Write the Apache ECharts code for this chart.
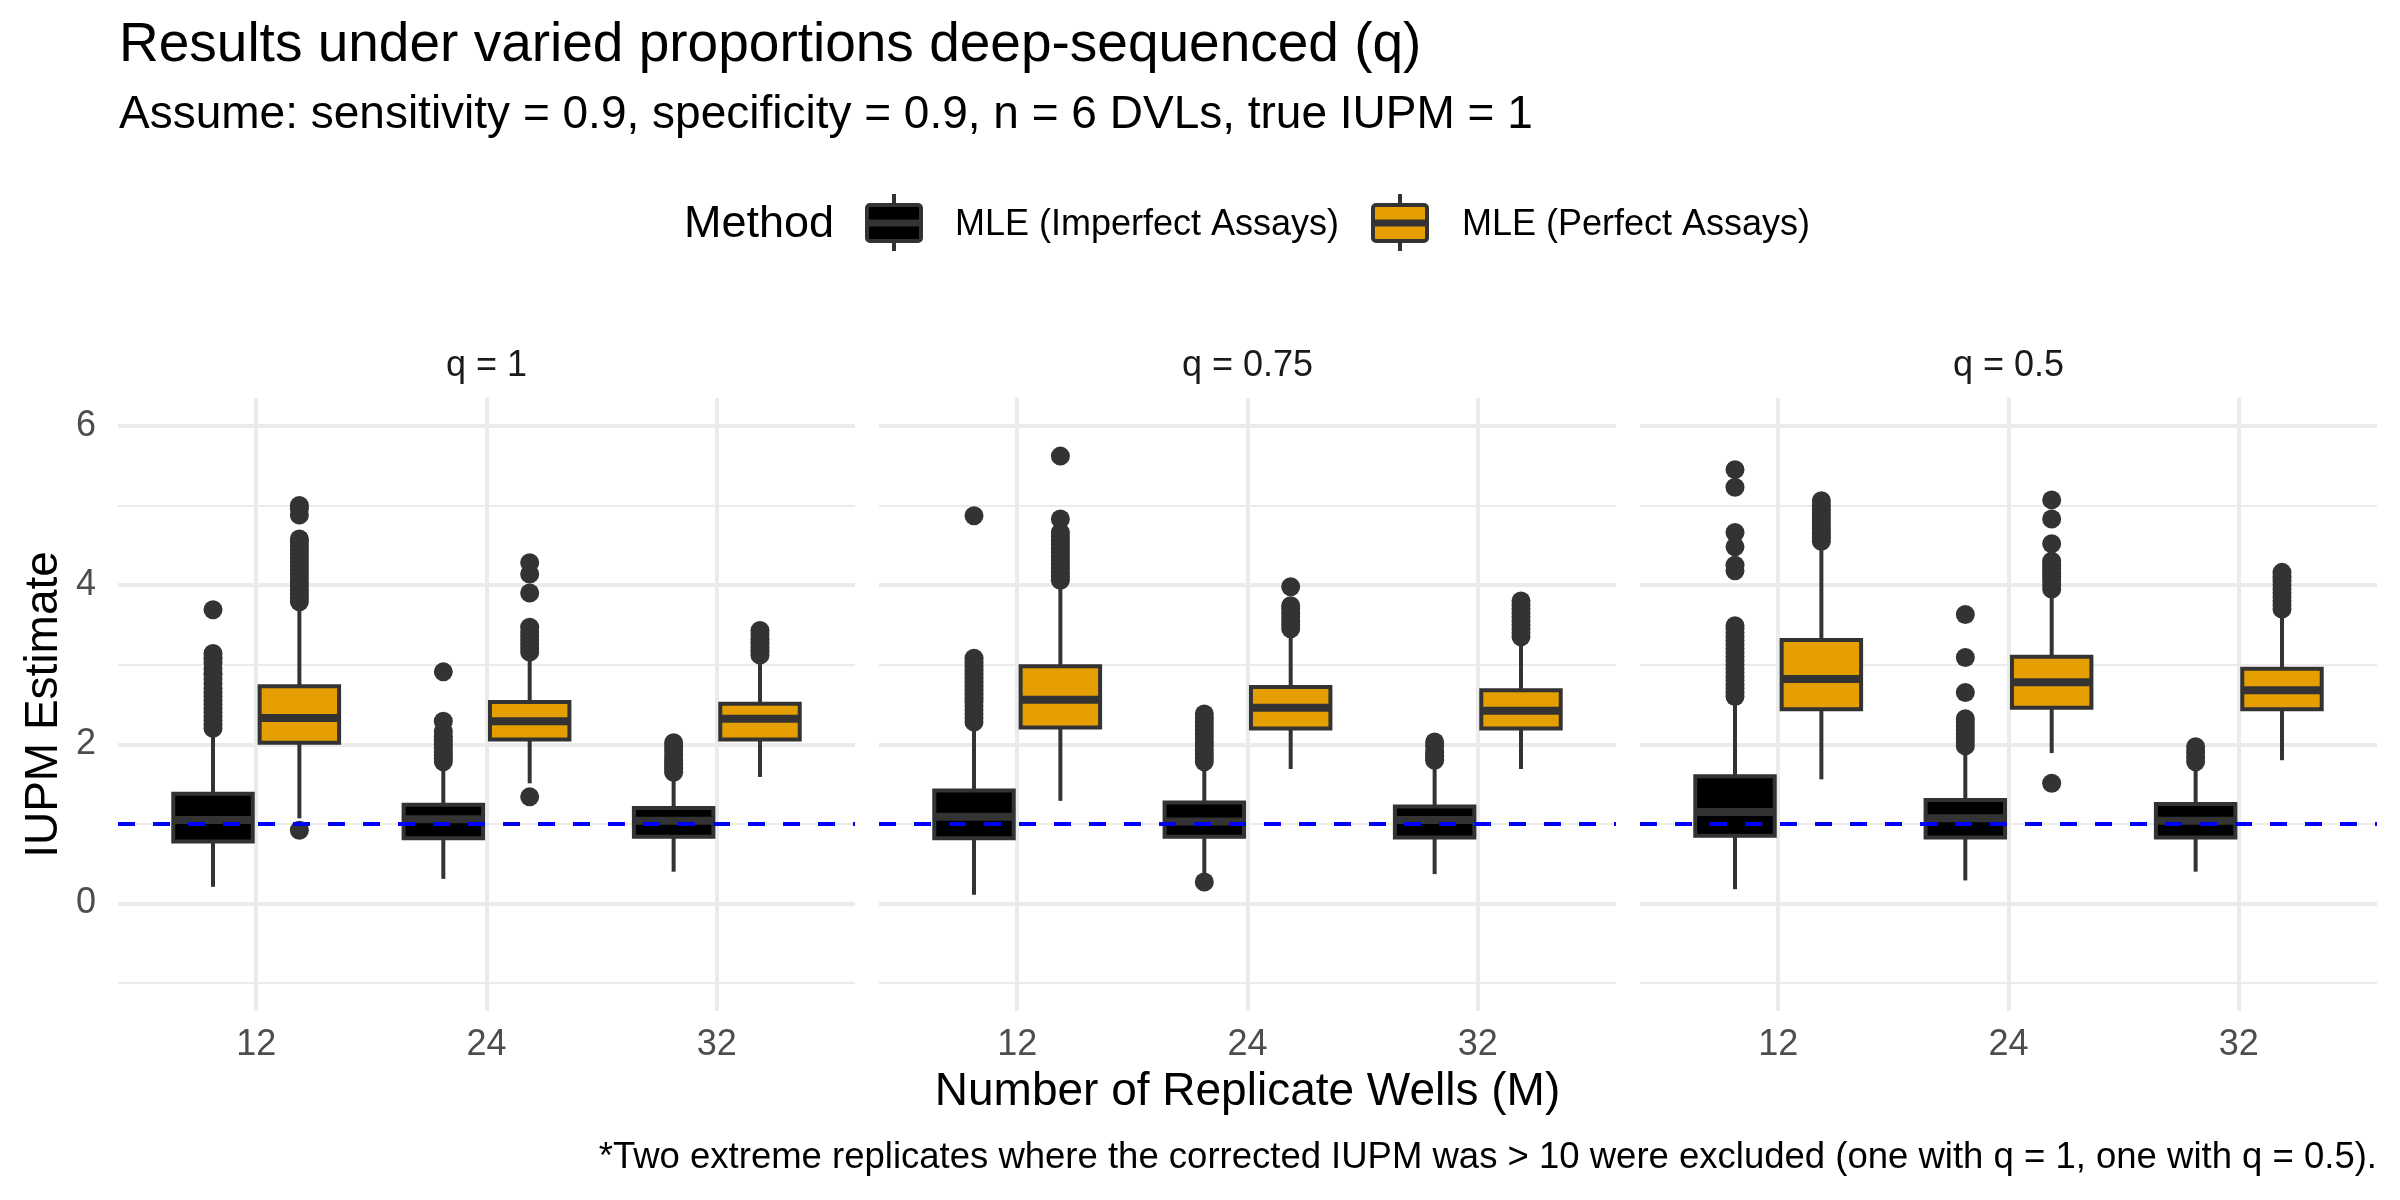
<!DOCTYPE html>
<html><head><meta charset="utf-8">
<script src="https://cdn.jsdelivr.net/npm/echarts@6/dist/echarts.min.js"></script>
<style>html,body{margin:0;padding:0;background:#fff}#chart{width:2400px;height:1200px}</style>
</head><body><div id="chart"></div>
<script>
// ---------------- DATA ----------------
const PANELS = ['q = 1', 'q = 0.75', 'q = 0.5'];
const M_LABELS = ['12', '24', '32'];
const METHODS = ['MLE (Imperfect Assays)', 'MLE (Perfect Assays)'];
const Y_MAJOR = [0, 2, 4, 6];
const Y_MINOR = [-1, 1, 3, 5];
const TRUE_IUPM = 1;

// box stats per M (12, 24, 32): [lower whisker, Q1, median, Q3, upper whisker]
const imperfectBox_q1   = [[0.21, 0.78, 1.05, 1.38, 2.15], [0.31, 0.82, 1.06, 1.24, 1.74], [0.40, 0.84, 1.04, 1.20, 1.59]];
const perfectBox_q1     = [[1.07, 2.02, 2.33, 2.73, 3.72], [1.51, 2.06, 2.29, 2.53, 3.10], [1.59, 2.06, 2.32, 2.51, 3.05]];
const imperfectBox_q075 = [[0.11, 0.82, 1.09, 1.42, 2.23], [0.37, 0.84, 1.03, 1.27, 1.73], [0.37, 0.83, 1.05, 1.22, 1.69]];
const perfectBox_q075   = [[1.29, 2.21, 2.56, 2.98, 3.99], [1.69, 2.20, 2.46, 2.72, 3.35], [1.69, 2.20, 2.42, 2.68, 3.25]];
const imperfectBox_q05  = [[0.18, 0.85, 1.15, 1.60, 2.53], [0.29, 0.83, 1.07, 1.30, 1.88], [0.40, 0.83, 1.04, 1.25, 1.71]];
const perfectBox_q05    = [[1.56, 2.44, 2.82, 3.31, 4.49], [1.89, 2.46, 2.78, 3.10, 3.89], [1.80, 2.44, 2.68, 2.95, 3.59]];

// outliers per M (12, 24, 32)
const imperfectOut_q1 = [
  [2.20, 2.25, 2.30, 2.35, 2.40, 2.45, 2.50, 2.55, 2.60, 2.65, 2.70, 2.76, 2.82, 2.88, 2.95, 3.02, 3.08, 3.14, 3.69],
  [1.78, 1.82, 1.86, 1.90, 1.95, 2.00, 2.05, 2.10, 2.16, 2.29, 2.91],
  [1.65, 1.70, 1.75, 1.80, 1.86, 1.92, 1.97, 2.02]
];
const perfectOut_q1 = [
  [0.92, 3.79, 3.84, 3.89, 3.94, 3.99, 4.04, 4.09, 4.14, 4.19, 4.24, 4.29, 4.34, 4.39, 4.44, 4.49, 4.54, 4.58, 4.88, 4.96, 5.00],
  [1.34, 3.16, 3.21, 3.26, 3.31, 3.36, 3.41, 3.47, 3.90, 4.14, 4.28],
  [3.12, 3.17, 3.22, 3.27, 3.32, 3.38, 3.43]
];
const imperfectOut_q075 = [
  [2.28, 2.33, 2.38, 2.43, 2.48, 2.53, 2.58, 2.63, 2.68, 2.73, 2.78, 2.83, 2.88, 2.93, 2.98, 3.03, 3.08, 4.87],
  [0.27, 1.78, 1.83, 1.88, 1.93, 1.98, 2.03, 2.08, 2.13, 2.18, 2.23, 2.28, 2.33, 2.38],
  [1.80, 1.85, 1.90, 1.98, 2.03]
];
const perfectOut_q075 = [
  [4.06, 4.11, 4.16, 4.21, 4.26, 4.31, 4.36, 4.41, 4.46, 4.51, 4.56, 4.61, 4.66, 4.83, 5.62],
  [3.45, 3.50, 3.55, 3.60, 3.65, 3.70, 3.74, 3.98],
  [3.35, 3.40, 3.45, 3.50, 3.55, 3.60, 3.65, 3.70, 3.75, 3.80]
];
const imperfectOut_q05 = [
  [2.60, 2.65, 2.70, 2.75, 2.80, 2.85, 2.90, 2.95, 3.00, 3.05, 3.10, 3.15, 3.20, 3.25, 3.30, 3.35, 3.40, 3.45, 3.49, 4.18, 4.25, 4.48, 4.66, 5.23, 5.45],
  [1.98, 2.03, 2.08, 2.13, 2.18, 2.23, 2.28, 2.32, 2.65, 3.09, 3.63],
  [1.78, 1.84, 1.90, 1.97]
];
const perfectOut_q05 = [
  [4.55, 4.60, 4.65, 4.70, 4.75, 4.80, 4.85, 4.90, 4.95, 5.00, 5.06],
  [1.51, 3.95, 4.00, 4.05, 4.10, 4.15, 4.20, 4.25, 4.30, 4.52, 4.83, 5.07],
  [3.70, 3.75, 3.80, 3.85, 3.90, 3.95, 4.00, 4.05, 4.10, 4.16]
];

const BOXES = [[imperfectBox_q1, perfectBox_q1], [imperfectBox_q075, perfectBox_q075], [imperfectBox_q05, perfectBox_q05]];
const OUTS  = [[imperfectOut_q1, perfectOut_q1], [imperfectOut_q075, perfectOut_q075], [imperfectOut_q05, perfectOut_q05]];

// ---------------- STYLE / LAYOUT ----------------
const FILLS = ['#000000', '#E69F00'];
const EDGE = '#333333';
const FONT = 'Liberation Sans, Arial, Helvetica, sans-serif';
const GRID_LEFTS = [118, 879, 1640];
const GRID_W = 737, GRID_TOP = 398, GRID_H = 613;
const DODGE = 0.1875, BOX_W = 0.345;
const X_MIN = 0.4, X_MAX = 3.6, Y_MIN = -1.35, Y_MAX = 6.35;
const GRID_COLOR = '#EBEBEB';

const grids = [], xAxes = [], yAxes = [], series = [];

function renderBox(fill) {
  return function (params, api) {
    const x = api.value(0);
    const lo = api.coord([x, api.value(1)]);
    const q1 = api.coord([x, api.value(2)]);
    const md = api.coord([x, api.value(3)]);
    const q3 = api.coord([x, api.value(4)]);
    const hi = api.coord([x, api.value(5)]);
    const w = api.size([BOX_W, 0])[0];
    const cx = md[0];
    return {
      type: 'group',
      children: [
        { type: 'line', shape: { x1: cx, y1: lo[1], x2: cx, y2: q1[1] }, style: { stroke: EDGE, lineWidth: 4 } },
        { type: 'line', shape: { x1: cx, y1: q3[1], x2: cx, y2: hi[1] }, style: { stroke: EDGE, lineWidth: 4 } },
        { type: 'rect', shape: { x: cx - w / 2, y: q3[1], width: w, height: q1[1] - q3[1] }, style: { fill: fill, stroke: EDGE, lineWidth: 4 } },
        { type: 'line', shape: { x1: cx - w / 2, y1: md[1], x2: cx + w / 2, y2: md[1] }, style: { stroke: EDGE, lineWidth: 8 } }
      ]
    };
  };
}

PANELS.forEach(function (panel, p) {
  grids.push({ left: GRID_LEFTS[p], top: GRID_TOP, width: GRID_W, height: GRID_H, outerBoundsMode: 'none', containLabel: false });
  xAxes.push({
    gridIndex: p, type: 'value', min: X_MIN, max: X_MAX,
    name: p === 1 ? 'Number of Replicate Wells (M)' : '',
    nameLocation: 'middle', nameGap: 58,
    nameTextStyle: { fontFamily: FONT, fontSize: 46, color: '#000' },
    axisLine: { show: false },
    axisTick: { show: false, customValues: [1, 2, 3] },
    axisLabel: { customValues: [1, 2, 3], formatter: function (v) { return M_LABELS[Math.round(v) - 1]; },
      fontFamily: FONT, fontSize: 36, color: '#4D4D4D', margin: 16 },
    splitLine: { show: true, lineStyle: { color: GRID_COLOR, width: 4 } }
  });
  // major y axis
  yAxes.push({
    gridIndex: p, type: 'value', min: Y_MIN, max: Y_MAX,
    name: p === 0 ? 'IUPM Estimate' : '',
    nameLocation: 'middle', nameGap: 51,
    nameTextStyle: { fontFamily: FONT, fontSize: 46, color: '#000' },
    axisLine: { show: false },
    axisTick: { show: false, customValues: Y_MAJOR },
    axisLabel: { show: p === 0, customValues: Y_MAJOR, fontFamily: FONT, fontSize: 36, color: '#4D4D4D', margin: 22 },
    splitLine: { show: true, lineStyle: { color: GRID_COLOR, width: 4 } }
  });
  // minor y axis (grid only)
  yAxes.push({
    gridIndex: p, type: 'value', min: Y_MIN, max: Y_MAX, position: 'left',
    axisLine: { show: false },
    axisTick: { show: false, customValues: Y_MINOR },
    axisLabel: { show: false, customValues: Y_MINOR },
    splitLine: { show: true, lineStyle: { color: GRID_COLOR, width: 2 } }
  });

  [0, 1].forEach(function (m) {
    const offs = m === 0 ? -DODGE : DODGE;
    const outData = [];
    OUTS[p][m].forEach(function (vals, c) {
      vals.forEach(function (v) { outData.push([c + 1 + offs, v]); });
    });
    series.push({
      type: 'scatter', name: METHODS[m], xAxisIndex: p, yAxisIndex: p * 2,
      data: outData, symbol: 'circle', symbolSize: 19,
      itemStyle: { color: EDGE, opacity: 1 }, silent: true, z: 2
    });
    const boxData = BOXES[p][m].map(function (s, c) { return [c + 1 + offs].concat(s); });
    series.push({
      type: 'custom', name: METHODS[m], xAxisIndex: p, yAxisIndex: p * 2,
      data: boxData, encode: { x: 0, y: [1, 2, 3, 4, 5] },
      renderItem: renderBox(FILLS[m]), itemStyle: { color: FILLS[m] }, silent: true, z: 3
    });
  });
  series.push({
    type: 'line', name: 'true IUPM', xAxisIndex: p, yAxisIndex: p * 2, data: [], z: 6, silent: true,
    markLine: {
      silent: true, symbol: ['none', 'none'], label: { show: false }, z: 10,
      lineStyle: { color: '#0000FF', width: 4, type: [17, 18] },
      data: [{ yAxis: TRUE_IUPM }]
    }
  });
});

// legend (drawn as graphics, ggplot style)
function legendKey(x, fill) {
  return [
    { type: 'line', shape: { x1: x + 29, y1: 194, x2: x + 29, y2: 251 }, style: { stroke: EDGE, lineWidth: 4 } },
    { type: 'rect', shape: { x: x + 2, y: 205, width: 54, height: 36, r: 3 }, style: { fill: fill, stroke: EDGE, lineWidth: 4 } },
    { type: 'line', shape: { x1: x + 2, y1: 223, x2: x + 56, y2: 223 }, style: { stroke: EDGE, lineWidth: 7 } }
  ];
}
const graphics = [
  { type: 'text', left: 684, top: 225 - 22.5, style: { text: 'Method', font: '45px ' + FONT, fill: '#000' } },
  { type: 'group', children: legendKey(865, FILLS[0]) },
  { type: 'text', left: 955, top: 225 - 18, style: { text: METHODS[0], font: '36px ' + FONT, fill: '#000' } },
  { type: 'group', children: legendKey(1371, FILLS[1]) },
  { type: 'text', left: 1462, top: 225 - 18, style: { text: METHODS[1], font: '36px ' + FONT, fill: '#000' } },
  { type: 'text', right: 2400 - 2377, top: 1157 - 18, style: { text: '*Two extreme replicates where the corrected IUPM was > 10 were excluded (one with q = 1, one with q = 0.5).', font: '36.5px ' + FONT, fill: '#000' } }
];
PANELS.forEach(function (panel, p) {
  graphics.push({ type: 'text', x: GRID_LEFTS[p] + GRID_W / 2, y: 366,
    style: { text: panel, font: '36px ' + FONT, fill: '#1A1A1A', align: 'center', verticalAlign: 'middle' } });
});

const chart = echarts.init(document.getElementById('chart'), null, { renderer: 'canvas', width: 2400, height: 1200 });
chart.setOption({
  backgroundColor: '#FFFFFF',
  animation: false,
  title: {
    text: 'Results under varied proportions deep-sequenced (q)',
    subtext: 'Assume: sensitivity = 0.9, specificity = 0.9, n = 6 DVLs, true IUPM = 1',
    left: 119, top: 18, itemGap: 19, padding: 0,
    textStyle: { fontFamily: FONT, fontSize: 55, fontWeight: 'normal', color: '#000', lineHeight: 55 },
    subtextStyle: { fontFamily: FONT, fontSize: 46, color: '#000', lineHeight: 46 }
  },
  grid: grids, xAxis: xAxes, yAxis: yAxes, series: series, graphic: graphics
});
</script></body></html>
